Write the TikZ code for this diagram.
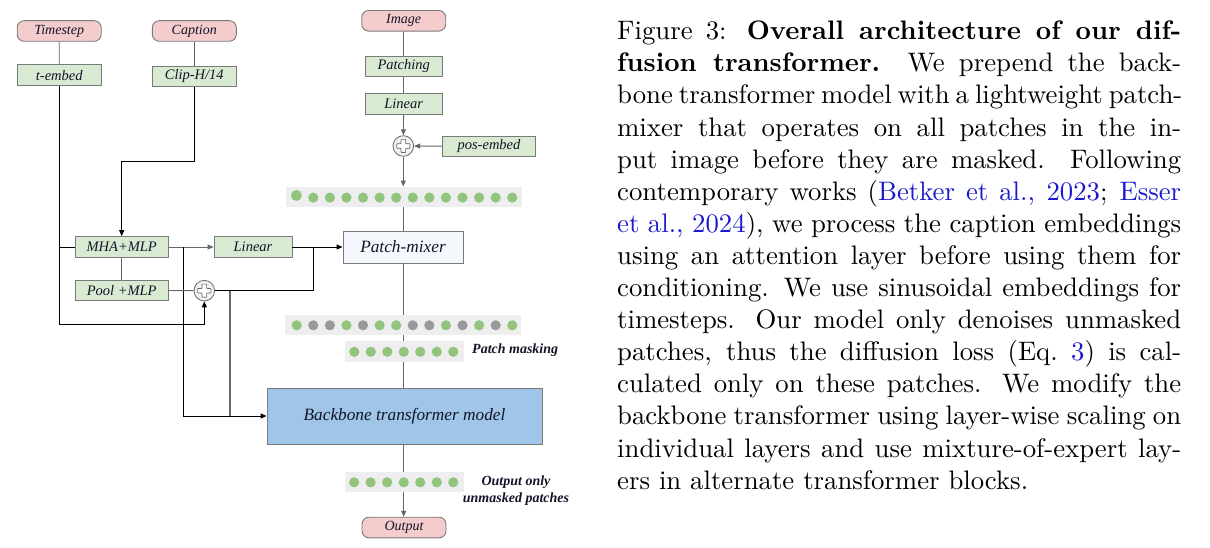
\documentclass[tikz,border=0pt]{standalone}
\usepackage{fontspec}
\usetikzlibrary{arrows.meta}
\newfontfamily\tnr{Liberation Serif}
\newfontfamily\capfont{lmroman10}[Extension=.otf,UprightFont=*-regular,BoldFont=*-bold,ItalicFont=*-italic]
\definecolor{pinkf}{HTML}{F4CCCC}
\definecolor{greenf}{HTML}{D9EAD3}
\definecolor{backf}{HTML}{9FC5E8}
\definecolor{mixf}{HTML}{F5F9FD}
\definecolor{rowbg}{HTML}{EEEEEE}
\definecolor{dotgreen}{HTML}{93C47D}
\definecolor{dotgray}{HTML}{999999}
\definecolor{bord}{HTML}{7A7A7A}
\definecolor{lgray}{HTML}{666666}
\definecolor{plusf}{HTML}{F2F2F2}
\definecolor{citeblue}{RGB}{25,25,205}
\definecolor{txt}{HTML}{141428}
\newcommand{\drawplus}[1]{%
  \draw[fill=white,draw=lgray,line width=0.7pt,rounded corners=0.6pt]
    ([shift={(-2.3,-6.6)}]#1.center) -- ([shift={(2.3,-6.6)}]#1.center) --
    ([shift={(2.3,-2.3)}]#1.center) -- ([shift={(6.6,-2.3)}]#1.center) --
    ([shift={(6.6,2.3)}]#1.center) -- ([shift={(2.3,2.3)}]#1.center) --
    ([shift={(2.3,6.6)}]#1.center) -- ([shift={(-2.3,6.6)}]#1.center) --
    ([shift={(-2.3,2.3)}]#1.center) -- ([shift={(-6.6,2.3)}]#1.center) --
    ([shift={(-6.6,-2.3)}]#1.center) -- ([shift={(-2.3,-2.3)}]#1.center) -- cycle;}
\tikzset{
  pill/.style={rounded corners=7pt,draw=bord,fill=pinkf,line width=0.9pt,
    minimum width=84pt,minimum height=20.6pt,inner sep=0pt,text=txt,
    font=\tnr\itshape\fontsize{14}{15}\selectfont},
  gbox/.style={draw=bord,fill=greenf,line width=0.8pt,minimum height=20.7pt,inner sep=0pt,text=txt,
    font=\tnr\itshape\fontsize{14.5}{15}\selectfont},
  bigbox/.style={draw=bord,line width=0.9pt,inner sep=0pt,text=txt,
    font=\tnr\itshape\fontsize{17.3}{19}\selectfont},
  plusnode/.style={circle,draw=lgray,fill=plusf,line width=0.8pt,minimum size=20.6pt,inner sep=0pt},
  rowbox/.style={fill=rowbg,draw=none,inner sep=0pt,minimum height=20.5pt},
  dg/.style={circle,fill=dotgreen,draw=none,minimum size=10.2pt,inner sep=0pt},
  dy/.style={circle,fill=dotgray,draw=none,minimum size=10.2pt,inner sep=0pt},
  gl/.style={draw=lgray,line width=0.9pt},
  bl/.style={draw=black,line width=0.9pt},
  tip/.style={-{Triangle[length=6pt,width=5pt]}},
  lab/.style={inner sep=0pt,text=txt,font=\tnr\bfseries\itshape\fontsize{14}{16.7}\selectfont}
}
\begin{document}
\begin{tikzpicture}[x=1pt,y=-1pt]
\useasboundingbox (0,0) rectangle (1210,548);
% inputs
\node[pill] (ts) at (59.2,31) {Timestep};
\node[pill] (cap) at (194.3,31) {Caption};
\node[pill] (img) at (403.7,20.8) {Image};
\node[pill] (out) at (404,527.5) {Output};
% green boxes
\node[gbox,minimum width=84pt] (te) at (59.3,75.2) {t-embed};
\node[gbox,minimum width=83.3pt] (clip) at (194.3,76.3) {Clip-H/14};
\node[gbox,minimum width=77.3pt] (patching) at (403.7,66.3) {Patching};
\node[gbox,minimum width=77.3pt] (lin1) at (403.7,104.2) {Linear};
\node[gbox,minimum width=93.4pt] (pos) at (489,146.3) {pos-embed};
\node[gbox,minimum width=93.3pt] (mha) at (121.7,247) {MHA+MLP};
\node[gbox,minimum width=93.3pt] (pool) at (121.7,290.3) {Pool +MLP};
\node[gbox,minimum width=78pt] (lin2) at (253,247) {Linear};
% big boxes
\node[bigbox,fill=mixf,minimum width=120pt,minimum height=32pt] (pm) at (403,247) {Patch-mixer};
\node[bigbox,fill=backf,minimum width=275pt,minimum height=56pt] (bb) at (404.5,416) {Backbone transformer model};
% plus nodes
\node[plusnode] (p1) at (403.3,146) {};
\drawplus{p1}
\node[plusnode] (p2) at (204.3,290.7) {};
\drawplus{p2}
% token rows
\node[rowbox,minimum width=236pt] (row1) at (404,197) {};
\node[dg,minimum size=11pt] (ra0) at (296.4,195.4) {};
\foreach \i in {1,...,13} \node[dg] (ra\i) at (296.7+16.58*\i,197.6) {};
\node[rowbox,minimum width=236pt] (row2) at (403,325) {};
\foreach \i/\s in {0/dg,1/dy,2/dy,3/dg,4/dy,5/dg,6/dg,7/dy,8/dy,9/dg,10/dy,11/dg,12/dy,13/dg}
  \node[\s] (rb\i) at (296.7+16.58*\i,325.3) {};
\node[rowbox,minimum width=119pt] (row3) at (404.5,351.5) {};
\foreach \i in {0,...,6} \node[dg] (rc\i) at (354.3+16.5*\i,351.8) {};
\node[rowbox,minimum width=119pt] (row4) at (404.5,482) {};
\foreach \i in {0,...,6} \node[dg] (rd\i) at (354.1+16.53*\i,482.3) {};
% labels
\node[lab,anchor=west] (pmask) at (472,350.5) {Patch masking};
\node[lab,align=center] (outlab) at (516,490.7) {Output only\\unmasked patches};
% image path
\draw[gl] (img) -- (patching);
\draw[gl] (patching) -- (lin1);
\draw[gl,tip] (lin1) -- (p1);
\draw[gl,tip] (pos) -- (p1);
\draw[gl,tip] (p1.south) -- (p1.south |- row1.north);
\draw[gl] (pm.north |- row1.south) -- (pm.north);
\draw[gl] (pm.south) -- (pm.south |- row2.north);
\draw[gl] (pm.south |- row2.south) -- (pm.south |- row3.north);
\draw[gl] (pm.south |- row3.south) -- (pm.south |- bb.north);
\draw[gl] (bb.south -| rd3) -- (rd3 |- row4.north);
\draw[gl,tip] (rd3 |- row4.south) -- (out.north -| rd3);
% timestep / caption
\draw[gl] (ts) -- (te);
\draw[gl] (cap) -- (clip);
\coordinate (tcorner) at (59.3,324);
\draw[bl,tip] (te.south) -- (tcorner) -| (p2.south);
\draw[bl] (te.south |- mha.west) -- (mha.west);
\coordinate (cbend) at (194.3,161);
\draw[bl,tip] (clip.south) -- (cbend) -| (mha.north);
\draw[gl] (mha) -- (pool);
\draw[gl,tip] (mha) -- (lin2);
\coordinate (mbr) at (183,247);
\draw[bl,tip] (mbr) |- (bb.west);
\draw[gl] (pool) -- (p2);
\coordinate (jn) at (313,247);
\draw[bl] (p2.east) -| (jn);
\draw[bl,tip] (lin2.east) -- (pm.west);
\coordinate (gb) at (230,290.7);
\draw[gl,line width=1.1pt] (gb) -- (gb |- bb.west);
% caption text
\node[anchor=base west,inner sep=0pt] (captext) at (617,39.8) {\capfont\fontsize{26.75}{32.1}\selectfont
\vtop{\hsize=564pt\baselineskip=32.1pt\lineskiplimit=-50pt\parindent=0pt
\hbox to\hsize{Figure 3: {\bfseries Overall architecture of our dif-}}
\hbox to\hsize{{\bfseries fusion transformer.} We prepend the back-}
\hbox to\hsize{bone transformer model with a lightweight patch-}
\hbox to\hsize{mixer that operates on all patches in the in-}
\hbox to\hsize{put image before they are masked. Following}
\hbox to\hsize{contemporary works ({\color{citeblue}Betker et al., 2023}; {\color{citeblue}Esser}}
\hbox to\hsize{{\color{citeblue}et al., 2024}), we process the caption embeddings}
\hbox to\hsize{using an attention layer before using them for}
\hbox to\hsize{conditioning. We use sinusoidal embeddings for}
\hbox to\hsize{timesteps. Our model only denoises unmasked}
\hbox to\hsize{patches, thus the diffusion loss (Eq.~{\color{citeblue}3}) is cal-}
\hbox to\hsize{culated only on these patches. We modify the}
\hbox to\hsize{backbone transformer using layer-wise scaling on}
\hbox to\hsize{individual layers and use mixture-of-expert lay-}
\hbox{ers in alternate transformer blocks.}}};
\end{tikzpicture}
\end{document}
